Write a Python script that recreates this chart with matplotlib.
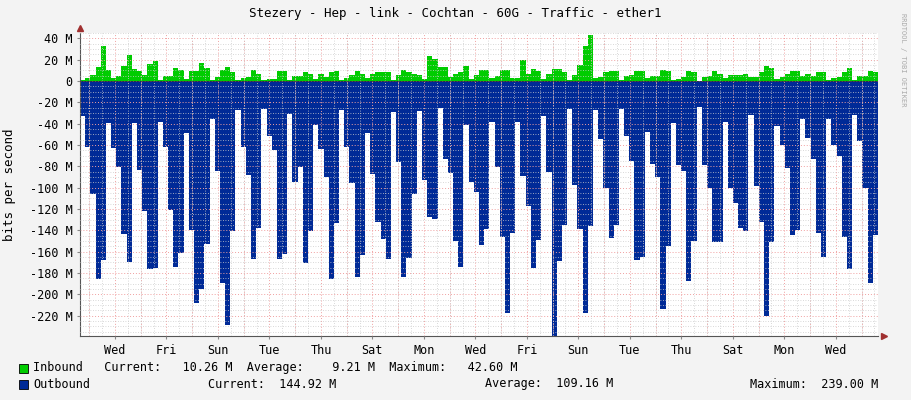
import numpy as np
import matplotlib.pyplot as plt
from matplotlib.ticker import MultipleLocator

# Outbound traffic, Mbit/s (drawn negative), one value per ~5 h step
outbound = [33, 62, 106, 186, 168, 39, 63, 81, 143, 170, 39, 83, 122, 176, 175,
            38, 62, 121, 174, 161, 49, 140, 208, 195, 153, 36, 84, 189, 229, 141,
            27, 62, 88, 167, 138, 26, 52, 65, 167, 162, 31, 95, 81, 171, 141,
            41, 64, 90, 186, 133, 27, 62, 96, 184, 163, 49, 87, 132, 148, 167,
            29, 76, 184, 166, 106, 28, 93, 127, 129, 25, 73, 86, 150, 174, 41,
            95, 104,
            154, 139, 38, 81, 146, 217, 142, 38, 89, 117, 175, 149, 33, 85, 239,
            169, 135, 26, 97, 139, 217, 136, 27, 54, 100, 147, 135, 26, 52, 75,
            168, 165, 48, 78, 90, 214, 155, 39, 79, 84, 187, 150, 24, 79, 100,
            151, 151, 38, 100, 114, 138, 141, 32, 98, 132, 220, 151, 42, 60, 82,
            144, 140, 36, 53, 73, 142, 165, 36, 60, 70, 146, 176, 32, 56, 100,
            189, 144]

# Inbound traffic, Mbit/s
inbound = [1, 3, 6, 13, 33, 10, 3, 5, 14, 24, 11, 9, 6, 16, 19, 1, 5, 5, 12, 10,
           2, 9, 9, 17, 12, 1, 4, 10, 13, 8, 1, 3, 4, 10, 7, 1, 2, 2, 9, 9,
           1, 5, 5, 8, 7, 2, 7, 4, 8, 9, 1, 3, 6, 9, 7, 3, 7, 8, 8, 8,
           1, 6, 10, 8, 7, 6, 2, 23, 21, 13, 13, 4, 7, 8, 14, 2, 6,
           10, 10, 3, 5, 10, 10, 3, 3, 20, 7, 11, 9, 2, 7, 11, 11, 8, 1, 6,
           15, 33, 43, 3, 4, 8, 9, 9, 1, 5, 6, 9, 9, 3, 5, 5, 10, 9, 1, 2, 4,
           9, 8, 0, 4, 5, 9, 7, 3, 6, 6, 6, 7, 4, 4, 8, 14, 12, 2, 4, 7, 9, 9,
           5, 7, 5, 8, 8, 1, 3, 4, 8, 12, 1, 5, 5, 9, 8]

day_labels = ['Wed', 'Fri', 'Sun', 'Tue', 'Thu', 'Sat', 'Mon',
              'Wed', 'Fri', 'Sun', 'Tue', 'Thu', 'Sat', 'Mon', 'Wed']
first_label = 1.36  # days from left edge to first 'Wed'
span = 31.0

green = '#00cc00'
blue = '#002a97'
bg = '#f3f3f3'
mono = 'DejaVu Sans Mono'

fig = plt.figure(figsize=(9.11, 4.0), dpi=100, facecolor=bg)
ax = fig.add_axes([80 / 911, 1 - 336 / 400, 798 / 911, 303 / 400])
ax.set_facecolor('white')

xo = np.linspace(0, span, len(outbound) + 1)
yo = -np.array(outbound + [outbound[-1]], dtype=float)
ax.fill_between(xo, yo, 0, step='post', color=blue, lw=0)

xi = np.linspace(0, span, len(inbound) + 1)
yi = np.array(inbound + [inbound[-1]], dtype=float)
ax.fill_between(xi, yi, 0, step='post', color=green, lw=0)

ax.set_xlim(0, span)
ax.set_ylim(-239, 45)

# grid
ax.yaxis.set_major_locator(MultipleLocator(20))
ax.yaxis.set_minor_locator(MultipleLocator(5))
ticks = first_label + 2 * np.arange(len(day_labels))
ax.set_xticks(ticks)
ax.set_xticklabels(day_labels)
ax.set_xticks(np.arange(first_label % 0.5, span, 0.5), minor=True)
ax.grid(which='minor', color='#cccccc', ls=(0, (1, 2)), lw=0.6)
for d in np.arange(first_label - 1, span, 1.0):
    ax.axvline(d, color='#f0a0a0', ls=(0, (1, 2)), lw=0.7, zorder=0.5)
for v in range(-220, 41, 20):
    ax.axhline(v, color='#f0a0a0', ls=(0, (1, 2)), lw=0.7, zorder=0.5)
ax.set_axisbelow(False)
for coll in ax.collections:
    coll.set_zorder(0.4)
ax.axhline(0, color='#333333', lw=0.5, zorder=3)

ax.set_yticks(range(-220, 41, 20))
ax.set_yticklabels([f'{v} M' if v != 0 else '0' for v in range(-220, 41, 20)])
ax.tick_params(labelsize=8.5, length=2, color='#888888')
ax.tick_params(which='minor', length=0)
for lab in ax.get_xticklabels() + ax.get_yticklabels():
    lab.set_fontfamily(mono)
for s in ['top', 'right']:
    ax.spines[s].set_visible(False)
for s in ['left', 'bottom']:
    ax.spines[s].set_color('#555555')
    ax.spines[s].set_linewidth(0.8)
ax.plot(1.008, 0, '>', color='#a03030', ms=4, transform=ax.transAxes, clip_on=False)
ax.plot(0, 1.015, '^', color='#a03030', ms=4, transform=ax.transAxes, clip_on=False)

fig.text(0.5, 1 - 14 / 400, 'Stezery - Hep - link - Cochtan - 60G - Traffic - ether1',
         ha='center', va='center', family=mono, fontsize=9)
fig.text(10 / 911, 1 - 185 / 400, 'bits per second', rotation=90,
         ha='center', va='center', family=mono, fontsize=9)
fig.text(903 / 911, 1 - 60 / 400, 'RRDTOOL / TOBI OETIKER', rotation=270,
         ha='center', va='center', family=mono, fontsize=5, color='#aaaaaa')

# legend
fig.patches.append(plt.Rectangle((19 / 911, 1 - 373 / 400), 9 / 911, 9 / 400,
                                 transform=fig.transFigure, fc=green, ec='black', lw=0.6))
fig.patches.append(plt.Rectangle((19 / 911, 1 - 389 / 400), 9 / 911, 9 / 400,
                                 transform=fig.transFigure, fc=blue, ec='black', lw=0.6))
fig.text(33 / 911, 1 - 368 / 400,
         'Inbound   Current:   10.26 M  Average:    9.21 M  Maximum:   42.60 M',
         va='center', family=mono, fontsize=8.5)
fig.text(33 / 911, 1 - 384 / 400, 'Outbound', va='center', family=mono, fontsize=8.5)
fig.text(208 / 911, 1 - 384 / 400, 'Current:  144.92 M', va='center', family=mono, fontsize=8.5)
fig.text(485 / 911, 1 - 384 / 400, 'Average:  109.16 M', va='center', family=mono, fontsize=8.5)
fig.text(750 / 911, 1 - 384 / 400, 'Maximum:  239.00 M', va='center', family=mono, fontsize=8.5)

fig.savefig('out.png', dpi=100, facecolor=bg)
